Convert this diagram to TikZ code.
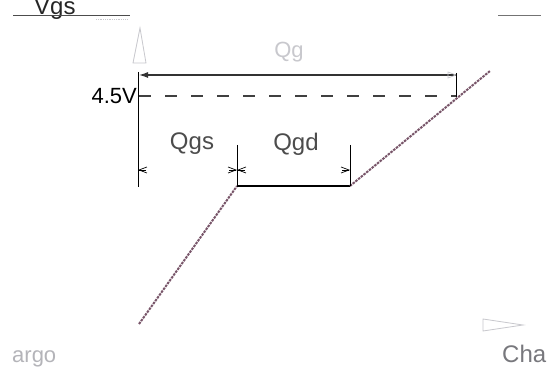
\documentclass[tikz,border=0pt]{standalone}
\usepackage{fontspec}
\setmainfont{Liberation Sans}
\usetikzlibrary{arrows.meta,calc}
\definecolor{faint}{RGB}{200,200,205}
\definecolor{midgray}{RGB}{120,120,125}
\definecolor{curve}{RGB}{120,85,105}
\tikzset{
  lbl/.style={inner sep=0pt, font=\fontsize{22}{22}\selectfont},
  biglbl/.style={inner sep=0pt, font=\fontsize{24}{24}\selectfont},
  thin line/.style={line width=0.9pt, black},
  slope/.style={line width=2pt, curve, dash pattern=on 2.5pt off 1pt},
  smalltip/.style={line width=0.7pt, -{Straight Barb[length=8pt,width=6pt]}},
  openhead/.style={draw=faint, line width=0.8pt},
}
\begin{document}
\begin{tikzpicture}[x=1pt,y=-1pt]
\path[use as bounding box, clip] (0,0) rectangle (548,371);
\fill[white] (0,0) rectangle (548,371);
% named points
\coordinate (yaxTop) at (138,72);
\coordinate (yaxBot) at (138,187);
\coordinate (A) at (139,324);
\coordinate (B) at (237,186);
\coordinate (C) at (350,186);
\coordinate (D) at (490,71);
\coordinate (QgL) at (139,75);
\coordinate (QgR) at (456,75);
\coordinate (QgB) at (456,97);
\coordinate (dashL) at (139,96);
\coordinate (dashR) at (456,96);
% top lines
\coordinate (tl1) at (13,16); \coordinate (tl2) at (130,16);
\coordinate (tr1) at (498,16); \coordinate (tr2) at (541,16);
\node[biglbl, anchor=base west, text=black!85] (vgs) at (34,15) {Vgs};
\draw[line width=1pt, black!70] (tl1) -- (tl2);
\draw[line width=1pt, black!55] (tr1) -- (tr2);
\draw[faint, line width=0.8pt, densely dotted] (96,19) -- (128,19);
% y axis head (faint)
\draw[openhead] (140,28) -- (146,63) -- (133,63) -- cycle;
% x axis head (faint)
\draw[openhead] (523,325) -- (483,331) -- (483,319) -- cycle;
% y axis
\draw[thin line] (yaxTop) -- (yaxBot);
% Qg dimension
\draw[line width=1.2pt, black!80, {Latex[length=9pt,width=6pt]}-] (QgL) -- (QgR);
\draw[faint, line width=0.7pt] (448,72) -- (456,75) -- (448,78) -- cycle;
\draw[thin line] (456,73) -- (QgB);
\node[lbl, text=faint] (qg) at (289,52) {Qg};
% 4.5V threshold
\node[lbl, anchor=east, text=black] (v45) at (137,96) {4.5V};
\draw[line width=1.1pt, black!75, dash pattern=on 12pt off 14pt] (dashL) -- (dashR);
% charge curve
\draw[slope] (A) -- (B);
\draw[line width=2.4pt, black] (B) -- (C);
\draw[slope] (C) -- (D);
% Qgs / Qgd ticks
\draw[thin line] (237,145) -- (B);
\draw[thin line] (350,145) -- (C);
\coordinate (ty1) at (138,170);
\coordinate (ty2) at (237,170);
\coordinate (ty3) at (350,170);
\draw[smalltip] ($(ty1)+(8,0)$) -- (ty1);
\draw[smalltip] ($(ty2)+(-8,0)$) -- (ty2);
\draw[smalltip] ($(ty2)+(8,0)$) -- (ty2);
\draw[smalltip] ($(ty3)+(-8,0)$) -- (ty3);
\node[biglbl, text=black!70] (qgs) at (192,144) {Qgs};
\node[biglbl, text=black!70] (qgd) at (296,144) {Qgd};
% axis labels
\node[biglbl, anchor=base west, text=midgray] (cha) at (502,362) {Cha};
\node[lbl, anchor=base west, text=faint!90!black] (argo) at (12,362) {argo};
\end{tikzpicture}
\end{document}
